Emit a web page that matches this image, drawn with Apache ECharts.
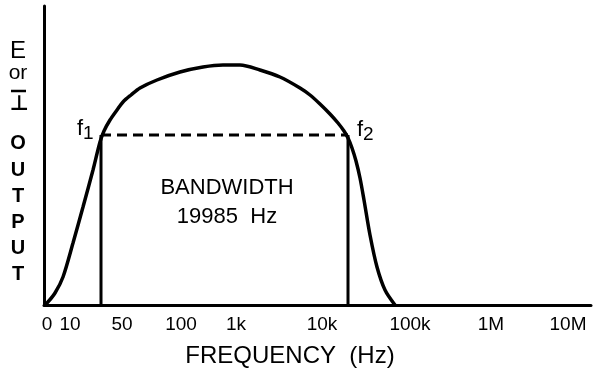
<!DOCTYPE html>
<html>
<head>
<meta charset="utf-8">
<script src="https://cdn.jsdelivr.net/npm/echarts@6/dist/echarts.min.js"></script>
<style>
html,body{margin:0;padding:0;background:#fff;}
#chart{width:599px;height:376px;}
</style>
</head>
<body>
<div id="chart"></div>
<script>
// Schematic response curve (arbitrary units)
var curveX = [0, 3, 11, 19, 29, 39, 49, 56, 60, 66, 73, 79, 87, 96, 113, 136, 159, 179, 196, 216, 236, 256, 266, 276, 286, 294, 300, 304, 308, 312, 316, 320, 326, 333, 341, 351];
var curveY = [0, 2, 12, 28, 62, 98, 135, 163, 174, 185, 195, 203, 210, 217, 225, 233, 238, 240, 240, 235, 228, 217, 210, 201, 191, 182, 174, 167, 157, 144, 127, 105, 70, 38, 15, 0];
var f1X = 57;
var f2X = 304;
var cutoffLevel = 170;
var tickPositions = [3, 26, 78, 137, 192, 278, 366, 447, 524];
var tickLabels = ['0', '10', '50', '100', '1k', '10k', '100k', '1M', '10M'];
var xMax = 547;
var yMax = 299;

var chart = echarts.init(document.getElementById('chart'), null, {renderer: 'canvas'});
var font = 'Liberation Sans, Arial, sans-serif';
var curve = curveX.map(function (x, i) { return [x, curveY[i]]; });

function txt(x, y, s, f) {
  return {type: 'text', x: x, y: y, style: {text: s, font: f, fill: '#000', align: 'center', verticalAlign: 'middle'}};
}

chart.setOption({
  animation: false,
  backgroundColor: '#fff',
  grid: {left: 44, top: 6, width: 547, height: 299, containLabel: false},
  xAxis: {
    type: 'value', min: 0, max: xMax,
    axisLine: {show: true, lineStyle: {color: '#000', width: 3}},
    axisTick: {show: false},
    splitLine: {show: false},
    axisLabel: {
      customValues: tickPositions,
      color: '#000', fontFamily: font, fontSize: 19, margin: 10,
      formatter: function (v) {
        var i = tickPositions.indexOf(v);
        return i >= 0 ? tickLabels[i] : '';
      }
    }
  },
  yAxis: {
    type: 'value', min: 0, max: yMax,
    axisLine: {show: true, lineStyle: {color: '#000', width: 3}},
    axisTick: {show: false},
    axisLabel: {show: false},
    splitLine: {show: false}
  },
  series: [
    {
      type: 'line', data: curve, smooth: 0.3, showSymbol: false,
      lineStyle: {color: '#000', width: 3.5}, z: 3
    },
    {
      type: 'line', data: [[f1X, 0], [f1X, cutoffLevel]], showSymbol: false,
      lineStyle: {color: '#000', width: 3}
    },
    {
      type: 'line', data: [[f2X, 0], [f2X, cutoffLevel]], showSymbol: false,
      lineStyle: {color: '#000', width: 3}
    },
    {
      type: 'line', data: [[f1X, cutoffLevel], [f2X, cutoffLevel]], showSymbol: false,
      lineStyle: {color: '#000', width: 3, type: [10, 6]}
    }
  ],
  graphic: [
    txt(227, 188, 'BANDWIDTH', '22px ' + font),
    txt(227, 217, '19985  Hz', '22px ' + font),
    txt(290, 356, 'FREQUENCY  (Hz)', '24px ' + font),
    {type: 'text', x: 77, y: 129, style: {text: '{a|f}{b|1}', rich: {a: {font: '22px ' + font, fill: '#000'}, b: {font: '19px ' + font, fill: '#000', padding: [10, 0, 0, 0]}}, verticalAlign: 'middle'}},
    {type: 'text', x: 357, y: 130, style: {text: '{a|f}{b|2}', rich: {a: {font: '22px ' + font, fill: '#000'}, b: {font: '19px ' + font, fill: '#000', padding: [10, 0, 0, 0]}}, verticalAlign: 'middle'}},
    txt(18, 51, 'E', '24px ' + font),
    txt(18, 73, 'or', '21px ' + font),
    {type: 'line', shape: {x1: 11, y1: 91, x2: 26, y2: 91}, style: {stroke: '#000', lineWidth: 2.5}},
    txt(19, 105, '⊥', 'bold 21px DejaVu Sans'),
    txt(18, 143, 'O', 'bold 20px ' + font),
    txt(18, 170, 'U', 'bold 20px ' + font),
    txt(18, 196, 'T', 'bold 20px ' + font),
    txt(18, 222, 'P', 'bold 20px ' + font),
    txt(18, 248, 'U', 'bold 20px ' + font),
    txt(18, 274, 'T', 'bold 20px ' + font)
  ]
});
</script>
</body>
</html>
